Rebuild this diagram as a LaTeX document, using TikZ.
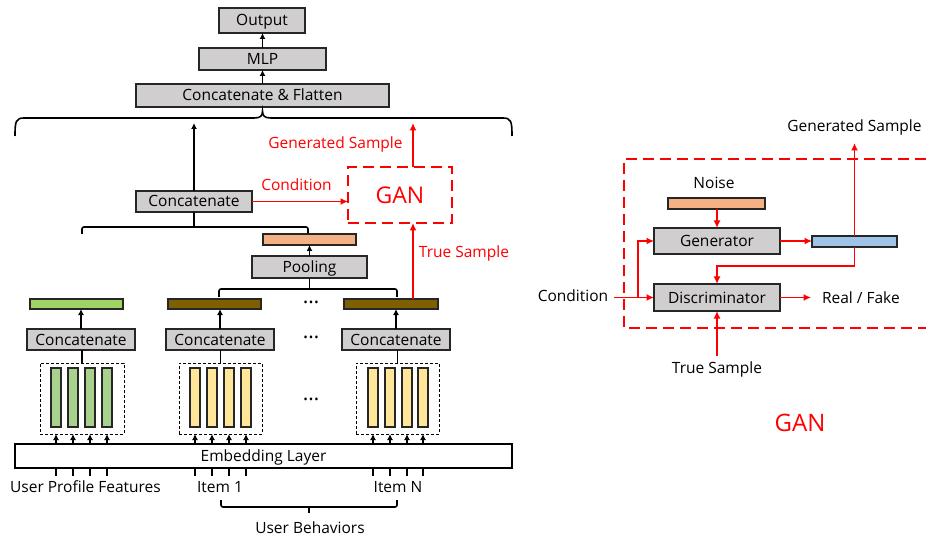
\documentclass[tikz,border=0pt]{standalone}
\usepackage{fontspec}
\setmainfont{Open Sans}
\usetikzlibrary{arrows.meta}
\definecolor{boxgray}{RGB}{208,206,206}
\definecolor{orng}{RGB}{244,177,131}
\definecolor{lgreen}{RGB}{160,210,100}
\definecolor{vgreen}{RGB}{169,209,142}
\definecolor{brwn}{RGB}{127,96,0}
\definecolor{ylw}{RGB}{255,230,153}
\definecolor{lblue}{RGB}{157,195,230}
\definecolor{gred}{RGB}{255,0,0}
\begin{document}
\begin{tikzpicture}[x=1pt,y=-1pt,
  every node/.style={font=\fontsize{15.5}{18}\selectfont, inner sep=0pt, outer sep=0pt},
  lbl/.style={text height=11pt, text depth=0pt},
  gbox/.style={draw=black!85, fill=boxgray, line width=1.3pt, lbl},
  bar/.style={draw=black!85, line width=1.2pt},
  dbox/.style={draw=black, line width=0.9pt, dash pattern=on 3pt off 2pt},
  arr/.style={line width=1.6pt, -{Latex[length=6pt,width=6pt]}},
  ln/.style={line width=1.6pt},
  rarr/.style={draw=gred, line width=1.8pt, -{Latex[length=7.5pt,width=7pt]}},
  rln/.style={draw=gred, line width=1.8pt},
  rdash/.style={draw=gred, line width=2.8pt, dash pattern=on 11pt off 6pt},
  rtext/.style={text=gred, lbl},
  dots/.style={font=\fontsize{21}{24}\selectfont},
]
\useasboundingbox (0,0) rectangle (926,537);

% ---------- top stack ----------
\node[gbox, minimum width=86pt, minimum height=25pt] (out) at (262,20.5) {Output};
\node[gbox, minimum width=127pt, minimum height=22pt] (mlp) at (262.5,59) {MLP};
\node[gbox, minimum width=253pt, minimum height=23pt] (cf) at (262.5,95.5) {Concatenate \& Flatten};
\draw[arr] (mlp.north) -- (mlp.north |- out.south);
\draw[arr] (cf.north) -- (cf.north |- mlp.south);

\coordinate (bt) at (262.5,111);
\draw[ln] (cf.south) -- (bt);
\draw[ln] (15,136) .. controls (15,121) and (16,118) .. (24,118) -- (254,118)
  .. controls (260.5,118) and (262.5,116) .. (bt)
  .. controls (262.5,116) and (264.5,118) .. (271,118) -- (503,118)
  .. controls (511,118) and (512,121) .. (512,136);

% ---------- middle ----------
\node[gbox, minimum width=116pt, minimum height=21pt] (cc) at (194,201.5) {Concatenate};
\draw[arr] (cc.north) -- ++(0,-68);

\node[draw=gred, line width=2.8pt, dash pattern=on 11pt off 6pt, minimum width=104pt, minimum height=56pt,
  text=gred, font=\fontsize{23}{27}\selectfont] (gan) at (400,195) {GAN};
\draw[rarr] (cc.east) -- (cc.east -| gan.west);
\node[rtext] (condl) at (296.5,185) {Condition};
\draw[rarr] ([xshift=13pt]gan.north) -- ++(0,-44);
\node[rtext] (gsl) at (335.5,143) {Generated Sample};

\draw[ln] (cc.south) -- (cc.south |- 0,227);
\draw[ln, rounded corners=2pt] (82,234) -- (82,227) -- (308,227) -- (308,234);

\node[bar, fill=orng, minimum width=93pt, minimum height=11pt] (ob) at (309.5,239.5) {};
\node[gbox, minimum width=115pt, minimum height=22pt] (pool) at (309.5,267) {Pooling};
\draw[arr] (pool.north) -- (ob.south);

\draw[ln] (pool.south) -- (309.5,289);
\draw[ln, rounded corners=2pt] (219,297) -- (219,289) -- (397,289) -- (397,297);

\node[bar, fill=lgreen, minimum width=93pt, minimum height=10pt] (gb) at (76.5,304) {};
\node[bar, fill=brwn, minimum width=93pt, minimum height=10pt] (b1) at (214.5,304) {};
\node[bar, fill=brwn, minimum width=94pt, minimum height=10pt] (b2) at (391,304) {};

\draw[rarr] ([xshift=22pt]b2.north) -- ([xshift=13pt]gan.south);
\node[rtext] (tsl) at (464,252) {True Sample};

\node[dots] (dt1) at (311,302) {…};
\node[dots] (dt2) at (311,337) {…};
\node[dots] (dt3) at (311,399) {…};

\node[gbox, minimum width=108pt, minimum height=21pt] (c1) at (81,339.5) {Concatenate};
\node[gbox, minimum width=108pt, minimum height=21pt] (c2) at (220,339.5) {Concatenate};
\node[gbox, minimum width=108pt, minimum height=21pt] (c3) at (396,339.5) {Concatenate};
\draw[arr] (c1.north) -- (c1.north |- gb.south);
\draw[arr] (c2.north) -- (c2.north |- b1.south);
\draw[arr] (c3.north) -- (c3.north |- b2.south);

\node[dbox, minimum width=84pt, minimum height=71pt] (d1) at (82,398.5) {};
\node[dbox, minimum width=83pt, minimum height=71pt] (d2) at (220.5,398.5) {};
\node[dbox, minimum width=83pt, minimum height=71pt] (d3) at (397.5,398.5) {};
\draw[ln] (d1.north) -- (d1.north |- c1.south);
\draw[ln] (d2.north) -- (d2.north |- c2.south);
\draw[ln] (d3.north) -- (d3.north |- c3.south);

\node[draw=black, line width=1.5pt, fill=white, minimum width=497pt, minimum height=24pt, lbl] (emb) at (263.5,456) {Embedding Layer};

\foreach \x [count=\i] in {56,73,90,107} {
  \node[bar, fill=vgreen, minimum width=10pt, minimum height=59pt] (ga\i) at (\x,397.5) {};
  \draw[arr] (ga\i |- emb.north) -- (ga\i |- d1.south);
  \draw[ln] (ga\i |- emb.south) -- ++(0,8);
}
\foreach \x [count=\i] in {195,212,229,246} {
  \node[bar, fill=ylw, minimum width=10pt, minimum height=59pt] (ya\i) at (\x,397.5) {};
  \draw[arr] (ya\i |- emb.north) -- (ya\i |- d2.south);
  \draw[ln] (ya\i |- emb.south) -- ++(0,8);
}
\foreach \x [count=\i] in {373,390,407,423} {
  \node[bar, fill=ylw, minimum width=10pt, minimum height=59pt] (yb\i) at (\x,397.5) {};
  \draw[arr] (yb\i |- emb.north) -- (yb\i |- d3.south);
  \draw[ln] (yb\i |- emb.south) -- ++(0,8);
}

\node[lbl] (upf) at (85.5,487) {User Profile Features};
\node[lbl] (it1) at (220,487) {Item 1};
\node[lbl] (itn) at (398,487) {Item N};
\draw[ln, rounded corners=2pt] (221,500) -- (221,507) -- (397,507) -- (397,500);
\draw[ln] (309,507) -- (309,513);
\node[lbl] (ub) at (310,528) {User Behaviors};

% ---------- right: GAN detail ----------
\node[lbl] (gs) at (854.5,126) {Generated Sample};
\draw[rdash] (926,159) -- (624,159) -- (624,328) -- (926,328);
\node[lbl] (noise) at (714,183) {Noise};
\node[bar, fill=orng, minimum width=97pt, minimum height=11pt] (nb) at (716.5,203.5) {};
\node[gbox, minimum width=126pt, minimum height=26pt] (gen) at (717,241) {Generator};
\node[gbox, minimum width=126pt, minimum height=27pt] (dis) at (717,297.5) {Discriminator};
\node[bar, fill=lblue, minimum width=85pt, minimum height=11pt] (bb) at (854.5,241.5) {};

\draw[rarr] (nb.south -| gen.north) -- (gen.north);
\draw[rarr] (gen.east) -- (gen.east -| bb.west);
\draw[rarr] (bb.south) -- ++(0,19) -| (dis.north);
\draw[rarr] (bb.north) -- ++(0,-93);

\node[lbl, anchor=west] (rf) at (822,298) {Real / Fake};
\coordinate (rfa) at (811,297.5);
\draw[rarr] (dis.east) -- (rfa);

\node[lbl] (cond) at (573,296) {Condition};
\coordinate (cin) at (614,297.5);
\coordinate (br) at (638,297.5);
\draw[rarr] (cin) -- (dis.west);
\draw[rarr] (br) |- (gen.west);

\node[lbl] (ts) at (717,368) {True Sample};
\draw[rarr] ([yshift=7pt]ts.north) -- (dis.south);

\node[text=gred, font=\fontsize{24}{28}\selectfont] (ganl) at (800,423) {GAN};
\end{tikzpicture}
\end{document}
